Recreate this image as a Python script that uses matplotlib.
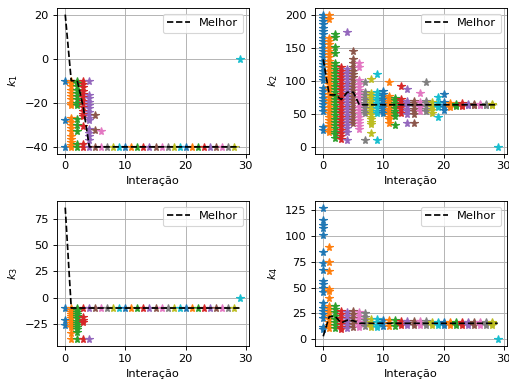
import matplotlib
matplotlib.use("Agg")
import matplotlib.pyplot as plt
import numpy as np

iterations = list(range(30))

k1_particles = [
    [-10, -28, -40],
    [-10, -11, -12.5, -14, -15.5, -17, -18.5, -20, -21, -27, -28.5, -30, -31.5, -33, -35, -36.5, -38, -39, -40],
    [-10, -11, -12.5, -14, -15.5, -17, -18.5, -20, -21, -27.5, -30, -33, -38.5, -40],
    [-10, -11.5, -13, -14.5, -16, -17.5, -19, -20.5, -22, -23.5, -25, -26, -30.5, -38.5, -40],
    [-10, -16.5, -18, -19.5, -21, -22.5, -24, -25.5, -27, -28, -32, -33.5, -35, -37, -40],
    [-25.5, -32.5, -40],
    [-33, -40],
    [-40], [-40], [-40], [-40], [-40], [-40], [-40], [-40], [-40], [-40],
    [-40], [-40], [-40], [-40], [-40], [-40], [-40], [-40], [-40], [-40],
    [-40], [-40],
    [0],
]
k1_best = [20, -10, -10, -22, -40, -40, -40, -40, -40, -40, -40, -40, -40, -40, -40,
           -40, -40, -40, -40, -40, -40, -40, -40, -40, -40, -40, -40, -40, -40, -40]

k2_particles = [
    [201, 196, 191, 186, 181, 176, 171, 166, 161, 156, 151, 146, 141, 136, 131, 126, 121, 116,
     111, 106, 101, 90, 85, 80, 75, 70, 65, 60, 55, 30, 26],
    [200, 194, 166, 161, 156, 151, 146, 141, 136, 131, 126, 121, 116, 111, 106, 101, 96, 91, 86,
     81, 76, 71, 66, 61, 56, 51, 46, 41, 36, 31, 26, 22],
    [172, 167, 152, 142, 128, 123, 118, 113, 108, 103, 98, 93, 88, 83, 78, 73, 68, 63, 58, 53,
     48, 43, 38, 33, 28, 23, 20, 13],
    [121, 116, 111, 106, 101, 96, 91, 86, 81, 76, 71, 66, 61, 56, 51, 46, 41, 36, 31, 26, 21,
     16, 12],
    [174, 118, 113, 108, 103, 98, 93, 88, 83, 78, 73, 68, 63, 58, 53, 48, 43, 38, 33, 28, 22, 10],
    [145, 134, 127, 121, 116, 111, 106, 101, 96, 91, 86, 81, 76, 71, 66, 61, 56, 51, 46, 41, 37],
    [128, 121, 101, 96, 91, 86, 81, 76, 71, 66, 61, 56, 51, 46, 41, 36, 31, 27],
    [98, 83, 79, 75, 71, 67, 63, 59, 55, 52, 10],
    [103, 82, 78, 74, 70, 66, 62, 58, 54, 50, 46, 42, 38, 35, 21],
    [110, 83, 79, 75, 71, 67, 63, 59, 55, 52, 10],
    [85, 81, 77, 73, 69, 65, 61, 57, 54, 51],
    [98, 78, 74, 70, 66, 62, 58, 54, 50, 46, 42, 37],
    [75, 71, 67, 63, 59, 55, 51, 47, 34],
    [92, 73, 69, 65, 61, 57, 52],
    [88, 70, 66, 62, 58, 54, 50, 36],
    [70, 66, 62, 58, 54, 50, 37],
    [82, 68, 64, 60, 55],
    [98, 70, 66, 62, 58, 55],
    [68, 64, 60, 56, 52],
    [76, 66, 63, 60, 45],
    [80, 68, 64, 60, 56],
    [67, 64, 61],
    [65, 63, 62],
    [66, 64, 62],
    [65, 64, 63],
    [65, 64, 63],
    [65, 64, 63],
    [65, 64, 63],
    [65, 64, 63],
    [0],
]
k2_best = [133, 79, 79, 72, 83, 83, 64, 64, 64, 64, 64, 64, 64, 64, 64,
           64, 64, 64, 64, 64, 64, 64, 64, 64, 64, 64, 64, 64, 64, 64]

k3_particles = [
    [-10, -21, -26],
    [-10, -12, -14, -16, -18, -20, -22, -24, -26, -28, -34, -40],
    [-10, -12, -14, -16, -18, -20, -22, -24, -26, -28, -30, -33, -40],
    [-10, -19, -21, -23, -40],
    [-10, -40],
    [-10], [-10], [-10], [-10], [-10], [-10], [-10], [-10], [-10], [-10],
    [-10], [-10], [-10], [-10], [-10], [-10], [-10], [-10], [-10], [-10],
    [-10], [-10], [-10], [-10],
    [0],
]
k3_best = [86, -10, -10, -10, -10, -10, -10, -10, -10, -10, -10, -10, -10, -10, -10,
           -10, -10, -10, -10, -10, -10, -10, -10, -10, -10, -10, -10, -10, -10, -10]

k4_particles = [
    [127, 115, 110, 107, 101, 84, 74, 67, 56, 53, 50, 46, 35, 30, 27, 24, 21, 12, 10],
    [89, 75, 66, 49, 47, 40, 32, 29, 26, 23, 20, 17, 14, 11],
    [32, 29, 26, 23, 20, 17, 14, 11],
    [27, 24, 21, 18, 15, 12, 10],
    [26, 23, 20, 17, 14, 11],
    [27, 24, 21, 18, 15, 12],
    [26, 23, 20, 17, 14, 12],
    [25, 22, 19, 16, 13],
    [20, 17, 14, 12],
    [20, 17, 14, 12],
    [19, 16, 13],
    [19, 16, 13],
    [19, 16, 13],
    [18, 16, 14],
    [18, 16, 14],
    [18, 16, 14],
    [18, 16, 14],
    [18, 16, 14],
    [17, 15.5, 14],
    [17, 15.5, 14],
    [17, 15.5, 14],
    [17, 15.5, 14],
    [17, 15.5, 14],
    [17, 15.5, 14],
    [17, 15.5, 14],
    [17, 15.5, 14],
    [17, 15.5, 14],
    [17, 15.5, 14],
    [17, 15.5, 14],
    [0],
]
k4_best = [3, 22, 22, 16, 18.5, 18, 15.5, 15.5, 15.5, 15.5, 15.5, 15.5, 15.5, 15.5, 15.5,
           15.5, 15.5, 15.5, 15.5, 15.5, 15.5, 15.5, 15.5, 15.5, 15.5, 15.5, 15.5, 15.5, 15.5, 15.5]

ylabels = ["$k_1$", "$k_2$", "$k_3$", "$k_4$"]
xlabel = "Interação"
legend_label = "Melhor"

W, H = 509, 385
DPI = 82
fig = plt.figure(figsize=(W / DPI, H / DPI), dpi=DPI)

# axes boxes in pixels: (left, top, right, bottom)
boxes = [(56.5, 8, 248.5, 153.5), (314.5, 8, 506.5, 153.5),
         (56.5, 201, 248.5, 346), (314.5, 201, 506.5, 346)]

all_particles = [k1_particles, k2_particles, k3_particles, k4_particles]
all_best = [k1_best, k2_best, k3_best, k4_best]

for box, parts, best, yl in zip(boxes, all_particles, all_best, ylabels):
    l, t, r, b = box
    ax = fig.add_axes([l / W, 1 - b / H, (r - l) / W, (b - t) / H])
    for it, vals in zip(iterations, parts):
        ax.plot([it] * len(vals), vals, '*', markersize=7)
    ax.plot(iterations, best, 'k--', label=legend_label)
    ax.grid(True)
    ax.set_xlabel(xlabel)
    ax.set_ylabel(yl)
    ax.legend(loc='upper right')
    ax.set_xticks([0, 10, 20, 30])

fig.savefig("out.png", dpi=DPI)
